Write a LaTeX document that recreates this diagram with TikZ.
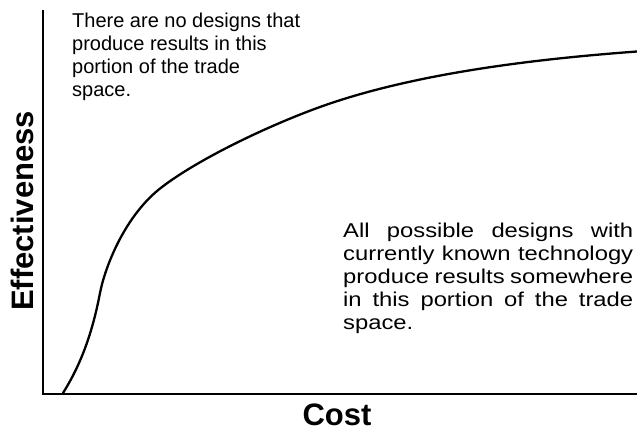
\documentclass[tikz,border=0pt]{standalone}
\usepackage{fontspec}
\setmainfont{Liberation Sans}
\newfontfamily\widefont{Liberation Sans}[FakeStretch=1.19]
\begin{document}
\begin{tikzpicture}[x=1pt,y=-1pt,
  axisline/.style={line width=2.6pt,line cap=butt,line join=miter},
  curveline/.style={line width=2.3pt,line cap=round,line join=round},
  axislabel/.style={font=\fontsize{31}{36}\selectfont\bfseries,inner sep=0pt},
  note/.style={font=\fontsize{20}{23.2}\selectfont,inner sep=0pt,align=left}]
\useasboundingbox (0,0) rectangle (637,430);
\coordinate (ytop) at (43,10);
\coordinate (origin) at (43,394);
\coordinate (xend) at (637,394);
\coordinate (c0) at (63,393);
\coordinate (c1) at (100,293);
\coordinate (c2) at (162,187);
\coordinate (c3) at (320,107);
\coordinate (c4) at (637,51.5);
\draw[axisline] (ytop) -- (origin) -- (xend);
\draw[curveline] (c0) .. controls (80,366) and (92,335) .. (c1)
  .. controls (105,267) and (125,215) .. (c2)
  .. controls (200,158) and (270,125) .. (c3)
  .. controls (420,71) and (550,58) .. (c4);
\node[axislabel,rotate=90,anchor=base] (ylab) at (33,211) {Effectiveness};
\node[axislabel,anchor=base] (xlab) at (337,425) {Cost};
\node[note,anchor=north west] (upper) at (72,12.5)
 {There are no designs that\\produce results in this\\portion of the trade\\space.};
\node[note,anchor=north west,font=\fontsize{20}{23.2}\selectfont\widefont] (lower) at (343,222.5)
 {\makebox[290pt][s]{All possible designs with}\\
  \makebox[290pt][s]{currently known technology}\\
  \makebox[290pt][s]{produce results somewhere}\\
  \makebox[290pt][s]{in this portion of the trade}\\
  space.};
\end{tikzpicture}
\end{document}
